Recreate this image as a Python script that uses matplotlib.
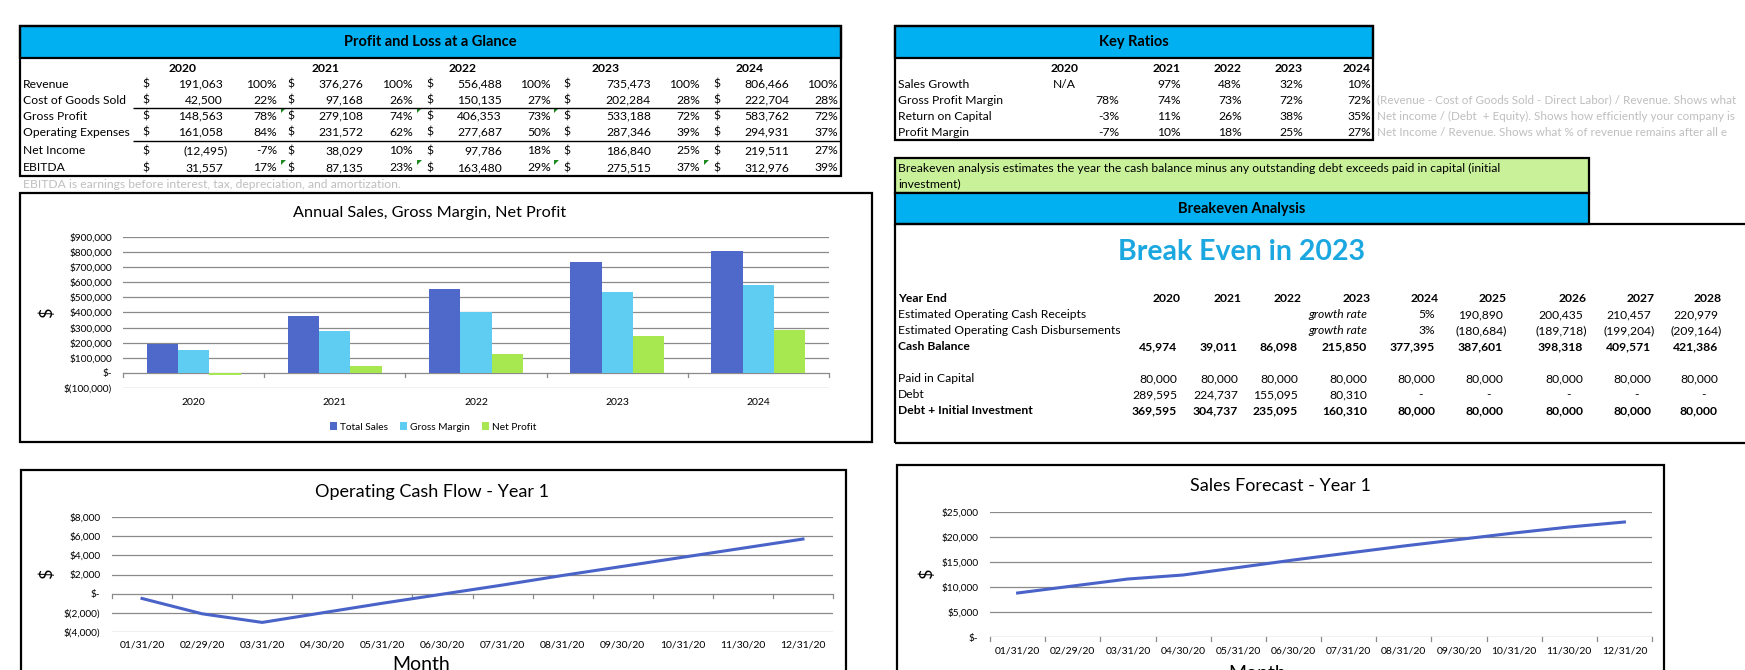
import matplotlib
matplotlib.use("Agg")
import matplotlib.pyplot as plt
from matplotlib.patches import Rectangle, Polygon
from matplotlib.lines import Line2D
from matplotlib.ticker import FuncFormatter

plt.rcParams['font.family'] = ['Lato', 'DejaVu Sans']

# ---------------- data ----------------
years = ['2020', '2021', '2022', '2023', '2024']
revenue = [191063, 376276, 556488, 735473, 806466]
revenue_pct = [100, 100, 100, 100, 100]
cogs = [42500, 97168, 150135, 202284, 222704]
cogs_pct = [22, 26, 27, 28, 28]
gross_profit = [148563, 279108, 406353, 533188, 583762]
gross_profit_pct = [78, 74, 73, 72, 72]
opex = [161058, 231572, 277687, 287346, 294931]
opex_pct = [84, 62, 50, 39, 37]
net_income = [-12495, 38029, 97786, 186840, 219511]
net_income_pct = [-7, 10, 18, 25, 27]
ebitda = [31557, 87135, 163480, 275515, 312976]
ebitda_pct = [17, 23, 29, 37, 39]

sales_growth = ['N/A', '97%', '48%', '32%', '10%']
gross_margin_ratio = [78, 74, 73, 72, 72]
return_on_capital = [-3, 11, 26, 38, 35]
profit_margin = [-7, 10, 18, 25, 27]
ratio_notes = ['(Revenue - Cost of Goods Sold - Direct Labor) / Revenue. Shows what',
               'Net income / (Debt  + Equity). Shows how efficiently your company is',
               'Net Income / Revenue. Shows what % of revenue remains after all e']

be_years = ['2020', '2021', '2022', '2023', '2024', '2025', '2026', '2027', '2028']
be_receipts = [None, None, None, 'growth rate', '5%', 190890, 200435, 210457, 220979]
be_disbursements = [None, None, None, 'growth rate', '3%', -180684, -189718, -199204, -209164]
be_cash_balance = [45974, 39011, 86098, 215850, 377395, 387601, 398318, 409571, 421386]
be_paid_in_capital = [80000, 80000, 80000, 80000, 80000, 80000, 80000, 80000, 80000]
be_debt = [289595, 224737, 155095, 80310, 0, 0, 0, 0, 0]
be_debt_plus_investment = [369595, 304737, 235095, 160310, 80000, 80000, 80000, 80000, 80000]
breakeven_year = '2023'

chart_years = ['2020', '2021', '2022', '2023', '2024']
total_sales = [191063, 376276, 556488, 735473, 806466]
gross_margin = [148563, 279108, 406353, 533188, 583762]
net_profit = [-11000, 46000, 126000, 247000, 285000]

months = ['01/31/20', '02/29/20', '03/31/20', '04/30/20', '05/31/20', '06/30/20',
          '07/31/20', '08/31/20', '09/30/20', '10/31/20', '11/30/20', '12/31/20']
operating_cash_flow = [-500, -2100, -3000, -2000, -1000, -50, 900, 1900, 2850, 3800, 4750, 5700]
sales_forecast = [8800, 10200, 11600, 12400, 13900, 15400, 16800, 18200, 19500, 20800, 22000, 23000]

# ---------------- helpers ----------------
W, H = 1745, 670
fig = plt.figure(figsize=(W / 100, H / 100), dpi=100)
fig.patch.set_facecolor('white')

BLUE = '#00B0F0'
GREEN_BOX = '#C9F19A'
GRAY_NOTE = '#BFBFBF'
GRID = '#8A8A8A'
C_SALES = '#4E69C9'
C_GM = '#5FCDF2'
C_NP = '#A7E851'
LINE_C = '#4A63C8'
TS = 8.7  # table font size
HS = 10.5  # header font size


def fx(x):
    return x / W


def fy(y):
    return 1 - y / H


def txt(x, y, s, ha='left', size=TS, weight='normal', color='black', style='normal', **kw):
    fig.text(fx(x), fy(y), s, ha=ha, va='center', fontsize=size, fontweight=weight,
             color=color, fontstyle=style, **kw)


def rect(x0, y0, x1, y1, fc='none', ec='black', lw=1.6):
    fig.add_artist(Rectangle((fx(x0), fy(y1)), fx(x1) - fx(x0), fy(y0) - fy(y1),
                             transform=fig.transFigure, facecolor=fc, edgecolor=ec, lw=lw))


def line(x0, y0, x1, y1, lw=1.6, color='black'):
    fig.add_artist(Line2D([fx(x0), fx(x1)], [fy(y0), fy(y1)], transform=fig.transFigure,
                          color=color, lw=lw, solid_capstyle='butt'))


def acct(v):
    if v == 0:
        return '-'
    if v < 0:
        return '({:,})'.format(abs(v))
    return '{:,}'.format(v)


def pct(v):
    return '{}%'.format(v)


def tri(x, y):
    fig.add_artist(Polygon([(fx(x), fy(y)), (fx(x + 5), fy(y)), (fx(x), fy(y + 5))],
                           closed=True, transform=fig.transFigure, facecolor='#1E8A1E',
                           edgecolor='none'))


# ---------------- Profit and Loss table ----------------
rect(20, 26, 841, 58, fc=BLUE)
rect(20, 26, 841, 176)
txt(430, 42, 'Profit and Loss at a Glance', ha='center', size=HS, weight='bold')

dollar_x = [142, 287, 426, 563, 713]
val_x = [223, 363, 502, 651, 789]
pct_x = [277, 413, 551, 700, 838]
year_cx = [183, 326, 463, 606, 750]
for i, yr in enumerate(years):
    txt(year_cx[i], 68, yr, ha='center', weight='bold')

pl_rows = [('Revenue', revenue, revenue_pct, 84),
           ('Cost of Goods Sold', cogs, cogs_pct, 100),
           ('Gross Profit', gross_profit, gross_profit_pct, 116),
           ('Operating Expenses', opex, opex_pct, 132),
           ('Net Income', net_income, net_income_pct, 151),
           ('EBITDA', ebitda, ebitda_pct, 168)]
for label, vals, pcts, y in pl_rows:
    txt(23, y, label)
    for i in range(5):
        txt(dollar_x[i], y, '$')
        v = vals[i]
        txt(val_x[i] + (5 if v < 0 else 0), y, acct(v), ha='right')
        txt(pct_x[i], y, pct(pcts[i]), ha='right')
line(133, 108, 841, 108, lw=1.0)
line(133, 141, 841, 141, lw=1.0)
for x in [281, 417, 554]:
    tri(x, 108)
for x in [281, 417, 554, 704]:
    tri(x, 160)
txt(23, 185, 'EBITDA is earnings before interest, tax, depreciation, and amortization.',
    color=GRAY_NOTE)

# ---------------- Key ratios ----------------
rect(895, 26, 1373, 58, fc=BLUE)
rect(895, 26, 1373, 140)
txt(1134, 42, 'Key Ratios', ha='center', size=HS, weight='bold')
kr_right = [1119, 1181, 1242, 1303, 1371]
txt(1065, 68, years[0], ha='center', weight='bold')
for i in range(1, 5):
    txt(kr_right[i], 68, years[i], ha='right', weight='bold')
txt(898, 84, 'Sales Growth')
txt(1053, 84, sales_growth[0])
for i in range(1, 5):
    txt(kr_right[i], 84, sales_growth[i], ha='right')
for label, vals, y in [('Gross Profit Margin', gross_margin_ratio, 100),
                       ('Return on Capital', return_on_capital, 116),
                       ('Profit Margin', profit_margin, 132)]:
    txt(898, y, label)
    for i in range(5):
        txt(kr_right[i], y, pct(vals[i]), ha='right')
for note, y in zip(ratio_notes, [100, 116, 132]):
    txt(1377, y, note, size=8.4, color=GRAY_NOTE)

# ---------------- Breakeven ----------------
rect(895, 158, 1589, 193, fc=GREEN_BOX)
txt(898, 168, 'Breakeven analysis estimates the year the cash balance minus any outstanding '
    'debt exceeds paid in capital (initial')
txt(898, 184, 'investment)')
rect(895, 193, 1589, 224, fc=BLUE)
txt(1242, 209, 'Breakeven Analysis', ha='center', size=HS, weight='bold')
line(895, 224, 1745, 224)
line(895, 224, 895, 443)
line(895, 443, 1745, 443)
txt(1242, 252, 'Break Even in ' + breakeven_year, ha='center', size=20.5, weight='bold',
    color='#1BA7E0')

be_right = [1177, 1238, 1298, 1367, 1435, 1503, 1583, 1651, 1718]
txt(898, 299, 'Year End', weight='bold')
for i, yr in enumerate(be_years):
    txt(be_right[i] + 4, 299, yr, ha='right', weight='bold')


def be_row(label, vals, y, bold=False):
    w = 'bold' if bold else 'normal'
    txt(898, y, label, weight=w)
    for i, v in enumerate(vals):
        if v is None:
            continue
        if isinstance(v, str):
            if v == 'growth rate':
                txt(be_right[i], y, v, ha='right', style='italic')
            else:
                txt(be_right[i], y, v, ha='right', weight=w)
        elif v == 0:
            txt(be_right[i] - 12, y, '-', ha='right', weight=w)
        else:
            txt(be_right[i] + (4 if v < 0 else 0), y, acct(v), ha='right', weight=w)


be_row('Estimated Operating Cash Receipts', be_receipts, 315)
be_row('Estimated Operating Cash Disbursements', be_disbursements, 331)
be_row('Cash Balance', be_cash_balance, 347, bold=True)
be_row('Paid in Capital', be_paid_in_capital, 379)
be_row('Debt', be_debt, 395)
be_row('Debt + Initial Investment', be_debt_plus_investment, 411, bold=True)


# ---------------- charts ----------------
def add_ax(left, top, right, bottom):
    return fig.add_axes([fx(left), fy(bottom), (right - left) / W, (bottom - top) / H])


def money(v, _pos=None):
    v = int(round(v))
    if v == 0:
        return '$-'
    if v < 0:
        return '$({:,})'.format(abs(v))
    return '${:,}'.format(v)


def style_ax(ax, yticks, xpad, ypad):
    for s in ax.spines.values():
        s.set_visible(False)
    ax.set_yticks(yticks)
    ax.yaxis.set_major_formatter(FuncFormatter(money))
    ax.grid(axis='y', color=GRID, lw=0.9)
    ax.set_axisbelow(True)
    ax.tick_params(axis='y', length=0, labelsize=7.3, pad=ypad)
    ax.tick_params(axis='x', length=0, labelsize=7.5, pad=xpad)


def boundary_ticks(ax, n, y_frac, px_height):
    tr = ax.get_xaxis_transform()
    d = 4 / px_height
    for b in range(n + 1):
        ax.plot([b - 0.5, b - 0.5], [y_frac, y_frac - d], color=GRID, lw=0.9,
                transform=tr, clip_on=False)


# Bar chart
rect(20, 193, 872, 442)
txt(430, 213, 'Annual Sales, Gross Margin, Net Profit', ha='center', size=11.7)
axb = add_ax(123, 237, 829, 388)
bw = 1 / 4.5
xs = list(range(len(chart_years)))
axb.bar([x - bw for x in xs], total_sales, width=bw, color=C_SALES, label='Total Sales', zorder=3)
axb.bar(xs, gross_margin, width=bw, color=C_GM, label='Gross Margin', zorder=3)
axb.bar([x + bw for x in xs], net_profit, width=bw, color=C_NP, label='Net Profit', zorder=3)
axb.set_xlim(-0.5, len(chart_years) - 0.5)
axb.set_ylim(-100000, 900000)
style_ax(axb, list(range(-100000, 900001, 100000)), xpad=7, ypad=8)
axb.set_xticks(xs)
axb.set_xticklabels(chart_years)
boundary_ticks(axb, len(chart_years), 0.1, 151)
txt(47, 313, '$', ha='center', size=13, rotation=90)
h, l = axb.get_legend_handles_labels()
fig.legend(h, l, loc='center', bbox_to_anchor=(fx(433), fy(427)), ncol=3, frameon=False,
           fontsize=7.3, handlelength=0.7, handleheight=0.7, handletextpad=0.3,
           columnspacing=1.2)

# Operating cash flow
rect(21, 470, 846, 700)
txt(432, 492, 'Operating Cash Flow - Year 1', ha='center', size=13)
axc = add_ax(112, 517, 833, 632)
mx = list(range(len(months)))
axc.plot(mx, operating_cash_flow, color=LINE_C, lw=2.2, zorder=3)
axc.set_xlim(-0.5, len(months) - 0.5)
axc.set_ylim(-4000, 8000)
style_ax(axc, list(range(-4000, 8001, 2000)), xpad=6, ypad=8.5)
axc.set_xticks(mx)
axc.set_xticklabels(months)
boundary_ticks(axc, len(months), 4 / 12, 115)
txt(47, 574, '$', ha='center', size=13, rotation=90)
fig.text(fx(421), fy(656), 'Month', ha='center', va='top', fontsize=14)

# Sales forecast
rect(897, 465, 1664, 700)
txt(1280, 486, 'Sales Forecast - Year 1', ha='center', size=13)
axs = add_ax(990, 512, 1652, 637)
axs.plot(mx, sales_forecast, color=LINE_C, lw=2.2, zorder=3)
axs.set_xlim(-0.5, len(months) - 0.5)
axs.set_ylim(0, 25000)
style_ax(axs, list(range(0, 25001, 5000)), xpad=7, ypad=8.5)
axs.set_xticks(mx)
axs.set_xticklabels(months)
boundary_ticks(axs, len(months), 0, 125)
txt(927, 574, '$', ha='center', size=13, rotation=90)
fig.text(fx(1257), fy(665), 'Month', ha='center', va='top', fontsize=14)

fig.savefig('out.png', dpi=100, facecolor='white')
